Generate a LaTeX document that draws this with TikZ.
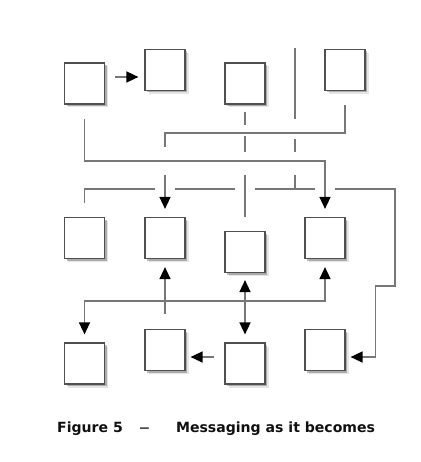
\documentclass[tikz,border=0pt]{standalone}
\usepackage{fontspec}
\usepackage{graphicx}
\setmainfont{DejaVu Sans}
\usetikzlibrary{arrows.meta,shadows,calc}
\definecolor{boxline}{HTML}{505050}
\definecolor{conn}{HTML}{777777}
\definecolor{captxt}{HTML}{111111}
\begin{document}
\begin{tikzpicture}[x=1pt,y=-1pt,
  blk/.style={draw=boxline,line width=1.2pt,fill=white,minimum width=40pt,minimum height=41pt,inner sep=0pt,
    drop shadow={shadow xshift=3.5pt,shadow yshift=-3.5pt,fill=black,opacity=0.10},
    drop shadow={shadow xshift=2pt,shadow yshift=-2pt,fill=black,opacity=0.25}},
  wire/.style={draw=conn,line width=1.5pt},
  arr/.style={wire,-{Triangle[length=12pt,width=11pt,color=black]}},
  darr/.style={wire,{Triangle[length=12pt,width=11pt,color=black]}-{Triangle[length=12pt,width=11pt,color=black]}},
  captext/.style={text=captxt,font=\bfseries\fontsize{14.06}{17}\selectfont,anchor=base west,inner sep=0pt}
]
\fill[white] (0,0) rectangle (420,462);
\useasboundingbox (0,0) rectangle (420,462);

% boxes
\node[blk] (a1) at (84.5,83.5) {};
\node[blk] (a2) at (165,70) {};
\node[blk] (a3) at (245,83.5) {};
\node[blk] (a4) at (345,70) {};
\node[blk] (b1) at (84.5,238) {};
\node[blk] (b2) at (165,238) {};
\node[blk] (b3) at (245,252) {};
\node[blk] (b4) at (325,238) {};
\node[blk] (c1) at (84.5,363.5) {};
\node[blk] (c2) at (165,350) {};
\node[blk] (c3) at (245,363.5) {};
\node[blk] (c4) at (325,350) {};

% helper levels
\coordinate (h1) at (0,133);
\coordinate (h2) at (0,161);
\coordinate (h3) at (0,189);
\coordinate (h4) at (0,301);
\coordinate (y119) at (0,119);
\coordinate (y125) at (0,125);
\coordinate (y136) at (0,136);
\coordinate (y139) at (0,139);
\coordinate (y147) at (0,147);
\coordinate (y152) at (0,152);
\coordinate (y175) at (0,175);
\coordinate (y286) at (0,286);
\coordinate (t295) at (295,48);
\coordinate (x395) at (395,0);

% row 1 arrow
\draw[arr] ($(a1.east)+(10,-6.5)$) -- ($(a2.west)+(-6,7)$);

% a1 -> b4
\draw[arr] ($(a1.south)+(0,14.5)$) |- (h2 -| b4.north) -- ($(b4.north)+(0,-8)$);

% a4 -> b2
\draw[wire] ($(a4.south)+(0,14)$) |- (h1 -| b2.north) -- (b2.north |- y147);
\draw[arr] (b2.north |- y175) -- ($(b2.north)+(0,-8)$);

% line under a3
\draw[wire] ($(a3.south)+(0,7.5)$) -- (a3.south |- y125);
\draw[wire] (a3.south |- y136) -- (a3.south |- y152);
\draw[wire] (a3.south |- y175) -- ($(b3.north)+(0,-14)$);

% line at x 295
\draw[wire] (t295) -- (t295 |- y119);
\draw[wire] (t295 |- y139) -- (t295 |- y152);
\draw[wire] (t295 |- y175) -- (t295 |- h3);

% long line at h3
\draw[wire] ($(b1.north)+(0,-14)$) |- ($(h3 -| b2.north)+(-10,0)$);
\draw[wire] ($(h3 -| b2.north)+(10,0)$) -- ($(h3 -| b3.north)+(-10,0)$);
\draw[wire] ($(h3 -| b3.north)+(10,0)$) -- ($(h3 -| b4.north)+(-10,0)$);
\draw[arr] ($(h3 -| b4.north)+(10,0)$) -| (x395 |- y286) -| ($(c4.east)+(30,7)$) -- ($(c4.east)+(5,7)$);

% bottom connectors
\draw[arr] ($(c2.north)+(0,-15)$) -- ($(b2.south)+(0,8)$);
\draw[darr] ($(b4.south)+(0,8)$) |- (h4 -| c1.north) -- ($(c1.north)+(0,-8)$);
\draw[darr] ($(b3.south)+(0,7)$) -- ($(c3.north)+(0,-8)$);
\draw[arr] ($(c3.west)+(-10,-6.5)$) -- ($(c2.east)+(5,7)$);

% caption
\node[captext] (cap) at (57,432) {Figure 5\hspace{16pt}{\color{black!70}\scalebox{1.6}[1]{–}}\hspace{26pt}Messaging as it becomes};
\end{tikzpicture}
\end{document}
